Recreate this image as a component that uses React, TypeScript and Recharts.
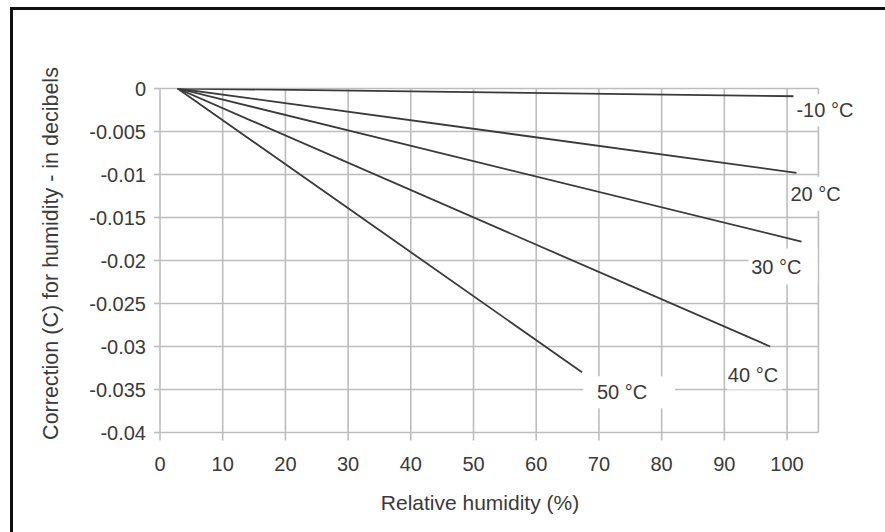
import React from "react";
import { LineChart, Line, XAxis, YAxis, CartesianGrid } from "recharts";

// endpoints: relative humidity (%) -> correction (dB)
const series = ["-10 °C", "20 °C", "30 °C", "40 °C", "50 °C"];
const startRH = [2.8, 2.8, 2.8, 2.8, 2.8];
const endRH = [101.5, 101.5, 102.3, 97.3, 67.3];
const startC = [0, 0, 0, 0, 0];
const endC = [-0.0009, -0.0098, -0.0178, -0.03, -0.033];

const xTicks = [0, 10, 20, 30, 40, 50, 60, 70, 80, 90, 100];
const yTicks = [0, -0.005, -0.01, -0.015, -0.02, -0.025, -0.03, -0.035, -0.04];

// where each curve name sits relative to the line's end
const labelPos = [
  { dx: 0, dy: 14, anchor: "start", padL: 3, padR: 4, h: 16 },
  { dx: -6, dy: 21, anchor: "start", padL: 2, padR: 4, h: 17 },
  { dx: 0, dy: 25, anchor: "end", padL: 5, padR: 16, h: 18 },
  { dx: 8, dy: 28, anchor: "end", padL: 3, padR: 4, h: 15 },
  { dx: 15, dy: 20, anchor: "start", padL: 14, padR: 30, h: 16 },
];

const FONT = "'Liberation Sans', Arial, sans-serif";
const GRID = "#bdbdbd";
const INK = "#3a3a3a";

const curveLabel = (i: number, last: number) => (props: any) => {
  if (props.index !== last) return <g key={`l${i}-${props.index}`} />;
  const p = labelPos[i];
  const text = series[i];
  const w = text.length * 9.6;
  const tx = props.x + p.dx;
  const ty = props.y + p.dy;
  const left = p.anchor === "start" ? tx : tx - w;
  return (
    <g key={`l${i}`}>
      <rect x={left - p.padL} y={ty - p.h} width={w + p.padL + p.padR} height={p.h * 2} fill="#fff" />
      <text x={tx} y={ty} dy="0.35em" textAnchor={p.anchor} fontSize={20} fontFamily={FONT} fill={INK}>
        {text}
      </text>
    </g>
  );
};

export default function App() {
  return (
    <div style={{ position: "absolute", left: 0, top: 0, width: 885, height: 532, overflow: "hidden", background: "#fff" }}>
      <div
        style={{
          position: "absolute",
          left: 10,
          top: 7,
          width: 1000,
          height: 700,
          borderTop: "3px solid #111",
          borderLeft: "3px solid #111",
        }}
      />
      <div style={{ position: "absolute", left: 0, top: 0 }}>
        <LineChart width={885} height={532} margin={{ top: 88.5, right: 66.6, bottom: 39.5, left: 0 }}>
          <CartesianGrid stroke={GRID} strokeWidth={1.6} verticalValues={[...xTicks, 105]} />
          <XAxis
            type="number"
            dataKey="rh"
            domain={[0, 105]}
            ticks={xTicks}
            allowDataOverflow
            height={60}
            axisLine={false}
            tickSize={8}
            tickMargin={16}
            tickLine={{ stroke: GRID, strokeWidth: 1.6 }}
            tick={{ fontSize: 20, fontFamily: FONT, fill: INK }}
            label={{
              content: () => (
                <text x={480} y={503} dy="0.35em" textAnchor="middle" fontSize={21} fontFamily={FONT} fill={INK}>
                  Relative humidity (%)
                </text>
              ),
            }}
          />
          <YAxis
            type="number"
            domain={[-0.04, 0]}
            ticks={yTicks}
            allowDataOverflow
            width={160}
            axisLine={false}
            tickSize={6}
            tickMargin={8}
            tickLine={{ stroke: GRID, strokeWidth: 1.6 }}
            tick={{ fontSize: 20, fontFamily: FONT, fill: INK }}
            label={{
              content: () => (
                <text
                  x={50}
                  y={253.5}
                  dy="0.35em"
                  textAnchor="middle"
                  transform="rotate(-90 50 253.5)"
                  fontSize={21.5}
                  fontFamily={FONT}
                  fill={INK}
                >
                  Correction (C) for humidity - in decibels
                </text>
              ),
            }}
          />
          {series.map((name, i) => {
            const data = [
              { rh: startRH[i], c: startC[i] },
              { rh: endRH[i], c: endC[i] },
            ];
            return (
              <Line
                key={name}
                data={data}
                dataKey="c"
                name={name}
                type="linear"
                stroke={INK}
                strokeWidth={1.8}
                dot={false}
                activeDot={false}
                isAnimationActive={false}
                label={curveLabel(i, data.length - 1)}
              />
            );
          })}
        </LineChart>
      </div>
    </div>
  );
}
